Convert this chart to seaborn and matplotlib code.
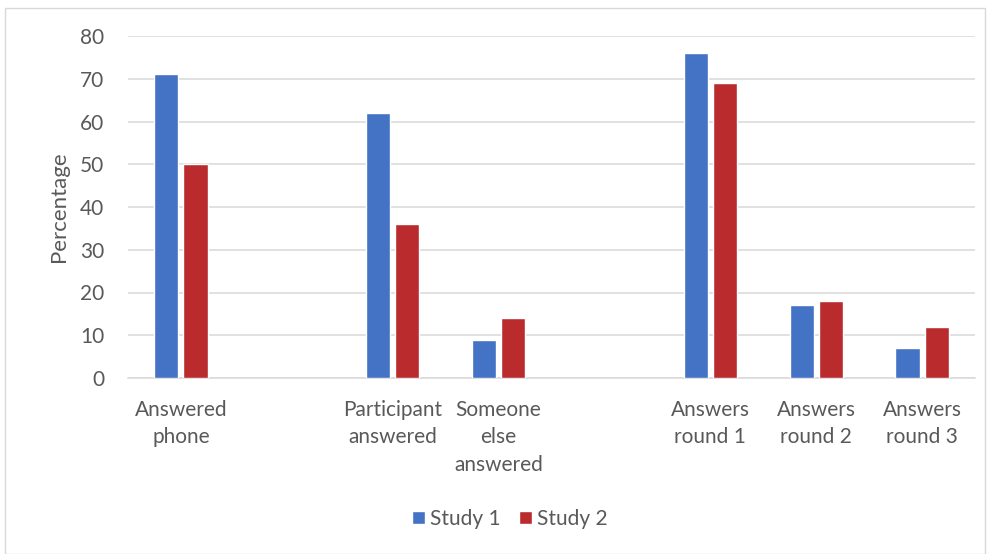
import pandas as pd
import matplotlib.pyplot as plt
import seaborn as sns
from matplotlib.patches import Rectangle

# categories (two empty slots used as spacers, like in the original chart)
categories = ["Answered\nphone", " ", "Participant\nanswered", "Someone\nelse\nanswered",
              "  ", "Answers\nround 1", "Answers\nround 2", "Answers\nround 3"]
used = ["Answered\nphone", "Participant\nanswered", "Someone\nelse\nanswered",
        "Answers\nround 1", "Answers\nround 2", "Answers\nround 3"]
study1 = [71, 62, 9, 76, 17, 7]
study2 = [50, 36, 14, 69, 18, 12]

df = pd.DataFrame({
    "category": used * 2,
    "value": study1 + study2,
    "study": ["Study 1"] * len(used) + ["Study 2"] * len(used),
})

sns.set_style("white")
plt.rcParams["font.family"] = ["Lato", "DejaVu Sans"]
grey = "#595959"
fs = 15

fig = plt.figure(figsize=(9.88, 5.54), dpi=100)
ax = fig.add_axes([128 / 988, 1 - 378 / 554, (975 - 128) / 988, (378 - 36) / 554])

sns.barplot(data=df, x="category", y="value", hue="study", order=categories,
            palette=["#4472C4", "#BA2B2E"], width=0.55, gap=0.17, ax=ax,
            saturation=1, zorder=3)

ax.set_ylim(0, 80)
ax.set_yticks(range(0, 81, 10))
ax.yaxis.grid(True, color="#D9D9D9", lw=1.1, zorder=0)
ax.set_axisbelow(True)
for s in ["top", "right", "left"]:
    ax.spines[s].set_visible(False)
ax.spines["bottom"].set_color("#D9D9D9")
ax.spines["bottom"].set_linewidth(1.1)
ax.tick_params(axis="y", length=0, pad=17, labelsize=fs, labelcolor=grey)
ax.tick_params(axis="x", length=0, pad=16, labelsize=fs, labelcolor=grey)
for lab in ax.get_xticklabels():
    lab.set_linespacing(1.45)
    lab.set_verticalalignment("top")
ax.set_xlabel("")
ax.set_ylabel("Percentage", fontsize=16, color=grey, labelpad=8)

ax.legend_.remove()
handles, labels = ax.get_legend_handles_labels()
fig.legend(handles, labels, loc="center", bbox_to_anchor=(0.516, 1 - 519 / 554),
           ncol=2, frameon=False, fontsize=fs, labelcolor=grey,
           handlelength=0.6, handleheight=0.6, handletextpad=0.25, columnspacing=0.9)

# outer chart border
fig.patches.append(Rectangle((5 / 988, 0), 980 / 988, 1 - 8 / 554, transform=fig.transFigure,
                             fill=False, edgecolor="#D9D9D9", lw=1))

fig.savefig("out.png", dpi=100)
